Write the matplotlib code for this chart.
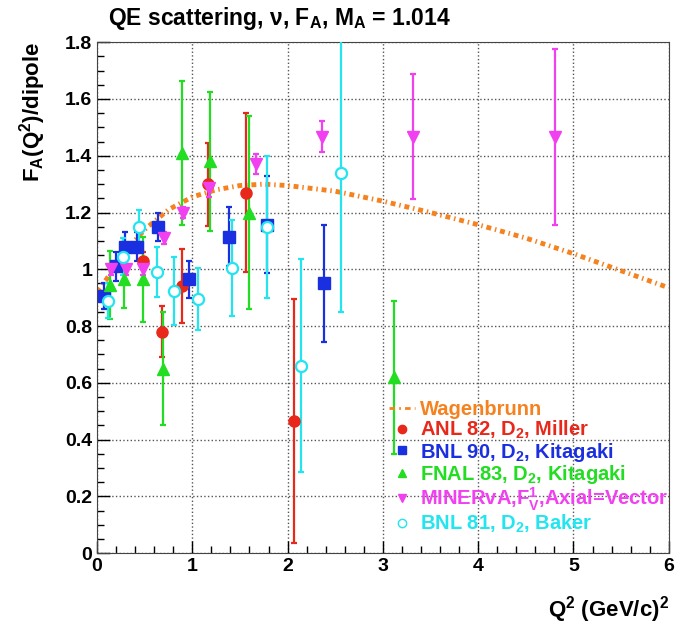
import matplotlib
matplotlib.use('Agg')
import matplotlib.pyplot as plt
from matplotlib.lines import Line2D
from matplotlib.ticker import MultipleLocator, FormatStrFormatter

plt.rcParams['font.family'] = ['Liberation Sans', 'DejaVu Sans']
plt.rcParams['font.weight'] = 'bold'
plt.rcParams['axes.labelweight'] = 'bold'
plt.rcParams['mathtext.fontset'] = 'custom'
plt.rcParams['mathtext.rm'] = 'Liberation Sans:bold'
plt.rcParams['mathtext.it'] = 'Liberation Sans:bold'
plt.rcParams['mathtext.bf'] = 'Liberation Sans:bold'
plt.rcParams['mathtext.default'] = 'rm'

# Wagenbrunn curve
wag_q2 = [0, 0.1, 0.25, 0.5, 0.75, 1.0, 1.25, 1.5, 1.75, 2.0, 2.5, 3.0, 3.5, 4.0, 4.5, 5.0, 5.5, 6.0]
wag_fa = [0.92, 0.965, 1.045, 1.14, 1.21, 1.255, 1.28, 1.295, 1.30, 1.295, 1.275, 1.24, 1.20, 1.157, 1.11, 1.055, 0.995, 0.935]

# ANL 82, D2, Miller
anl_q2 = [0.48, 0.68, 0.89, 1.16, 1.56, 2.07]
anl_fa = [1.03, 0.78, 0.94, 1.30, 1.27, 0.466]
anl_err = [0.03, 0.09, 0.13, 0.146, 0.28, 0.43]

# BNL 90, D2, Kitagaki
bnl90_q2 = [0.07, 0.20, 0.29, 0.42, 0.64, 0.97, 1.38, 1.78, 2.38]
bnl90_fa = [0.905, 1.01, 1.08, 1.08, 1.15, 0.965, 1.115, 1.157, 0.95]
bnl90_err = [0.045, 0.05, 0.05, 0.05, 0.05, 0.065, 0.105, 0.17, 0.207]

# FNAL 83, D2, Kitagaki
fnal_q2 = [0.14, 0.28, 0.48, 0.69, 0.89, 1.19, 1.59, 3.12]
fnal_fa = [0.945, 0.965, 0.965, 0.65, 1.41, 1.38, 1.20, 0.62]
fnal_err = [0.12, 0.10, 0.15, 0.20, 0.255, 0.245, 0.34, 0.27]

# MINERvA, F1V, Axial=Vector
minerva_q2 = [0.15, 0.30, 0.48, 0.70, 0.90, 1.18, 1.67, 2.36, 3.32, 4.81]
minerva_fa = [1.0, 1.0, 1.0, 1.11, 1.20, 1.285, 1.37, 1.467, 1.467, 1.467]
minerva_err = [0.02, 0.02, 0.02, 0.02, 0.02, 0.03, 0.035, 0.055, 0.22, 0.31]

# BNL 81, D2, Baker
bnl81_q2 = [0.12, 0.27, 0.44, 0.63, 0.81, 1.06, 1.42, 1.78, 2.14, 2.56]
bnl81_fa = [0.89, 1.044, 1.15, 0.99, 0.925, 0.896, 1.005, 1.15, 0.66, 1.34]
bnl81_err = [0.06, 0.065, 0.06, 0.088, 0.12, 0.11, 0.17, 0.25, 0.375, 0.49]

orange = '#F5821F'
red = '#E8281A'
blue = '#1A2FE0'
green = '#22DD22'
magenta = '#F040F0'
cyan = '#22E5F0'

fig = plt.figure(figsize=(6.88, 6.30), dpi=100)
ax = fig.add_axes([0.141, 0.122, 0.831, 0.811])

ax.plot(wag_q2, wag_fa, color=orange, lw=3.5, linestyle=(0, (1.0, 0.8, 0.3, 0.8)), zorder=2)

ekw = dict(linestyle='none', elinewidth=1.6, capsize=2, capthick=1.6, markersize=8, zorder=3)
ax.errorbar(anl_q2, anl_fa, yerr=anl_err, fmt='o', color=red, **ekw)
ax.errorbar(bnl90_q2, bnl90_fa, yerr=bnl90_err, fmt='s', color=blue, **ekw)
ax.errorbar(fnal_q2, fnal_fa, yerr=fnal_err, fmt='^', color=green, **ekw)
ax.errorbar(minerva_q2, minerva_fa, yerr=minerva_err, fmt='v', color=magenta, **ekw)
ax.errorbar(bnl81_q2, bnl81_fa, yerr=bnl81_err, fmt='o', color=cyan, mfc='white', mew=1.6, **ekw)

ax.set_xlim(0, 6)
ax.set_ylim(0, 1.8)
ax.xaxis.set_major_locator(MultipleLocator(1))
ax.xaxis.set_minor_locator(MultipleLocator(0.2))
ax.yaxis.set_major_locator(MultipleLocator(0.2))
ax.yaxis.set_minor_locator(MultipleLocator(0.05))
ax.yaxis.set_major_formatter(FormatStrFormatter('%g'))
ax.tick_params(which='both', direction='in', top=False, right=False, labelsize=14)
ax.tick_params(which='major', length=9, width=1)
ax.tick_params(which='minor', length=5, width=1)
ax.grid(True, which='major', linestyle=':', color='#555555', lw=1)
for s in ax.spines.values():
    s.set_color('#444444')

ax.set_xlabel('Q$^2$ (GeV/c)$^2$', fontsize=16, loc='right', labelpad=14)
ax.set_ylabel('F$_A$(Q$^2$)/dipole', fontsize=16, loc='top', labelpad=12)
fig.text(0.157, 0.971, 'QE scattering, ν, F$_A$, M$_A$ = 1.014', fontsize=16.5,
         fontweight='bold', va='center', ha='left')

handles = [
    Line2D([], [], color=orange, lw=2, linestyle=(0, (2, 1.5, 0.6, 1.5))),
    Line2D([], [], color=red, marker='o', linestyle='none', markersize=6),
    Line2D([], [], color=blue, marker='s', linestyle='none', markersize=6),
    Line2D([], [], color=green, marker='^', linestyle='none', markersize=6),
    Line2D([], [], color=magenta, marker='v', linestyle='none', markersize=6),
    Line2D([], [], color=cyan, marker='o', mfc='white', linestyle='none', markersize=6),
]
labels = ['Wagenbrunn', 'ANL 82, D$_2$, Miller', 'BNL 90, D$_2$, Kitagaki',
          'FNAL 83, D$_2$, Kitagaki', 'MINERvA,F$^1_V$,Axial=Vector', 'BNL 81, D$_2$, Baker']
leg = ax.legend(handles, labels, loc='upper left', bbox_to_anchor=(0.565, 0.365),
                bbox_transform=fig.transFigure, frameon=False, fontsize=14.5,
                handlelength=1.3, handletextpad=0.25, labelspacing=-0.02,
                borderpad=0, borderaxespad=0)
for t, h in zip(leg.get_texts(), handles):
    t.set_color(h.get_color())

fig.savefig('out.png', dpi=100)
